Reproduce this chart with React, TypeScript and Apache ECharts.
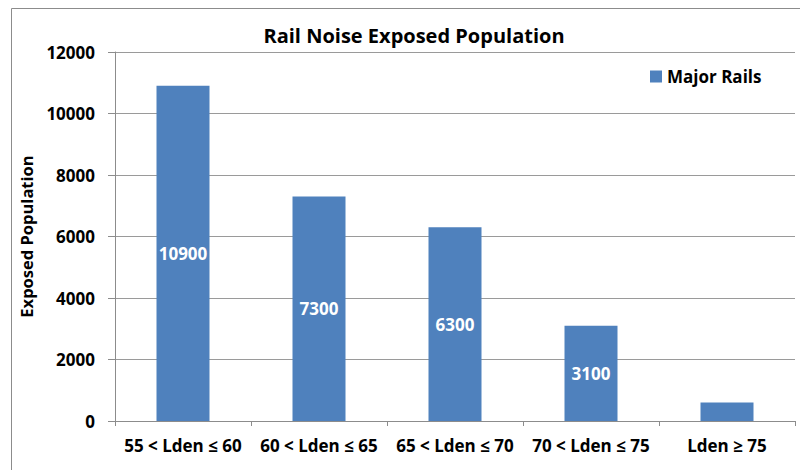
import React, { useEffect, useRef } from "react";
import * as echarts from "echarts";

const categories = ["55 < Lden ≤ 60", "60 < Lden ≤ 65", "65 < Lden ≤ 70", "70 < Lden ≤ 75", "Lden ≥ 75"];
const majorRails = [10900, 7300, 6300, 3100, 600];
const showLabel = [true, true, true, true, false];
const yTicks = { min: 0, max: 12000, interval: 2000 };

const FONT = "Open Sans";
const GREY = "#8c8c8c";

export default function App() {
  const ref = useRef<HTMLDivElement>(null);
  useEffect(() => {
    if (!ref.current) return;
    const chart = echarts.init(ref.current, null, { renderer: "svg" });
    chart.setOption({
      animation: false,
      backgroundColor: "#ffffff",
      title: {
        text: "Rail Noise Exposed Population",
        left: 409,
        top: 20,
        textAlign: "center",
        textStyle: { fontFamily: FONT, fontSize: 20, fontWeight: "bold", color: "#000" },
      },
      legend: {
        left: 650,
        top: 68,
        padding: 0,
        itemWidth: 12,
        itemHeight: 12,
        icon: "rect",
        itemGap: 5,
        textStyle: { fontFamily: FONT, fontSize: 17, fontWeight: "bold", color: "#000" },
        data: ["Major Rails"],
      },
      graphic: [
        {
          type: "rect",
          shape: { x: 11.5, y: 8.5, width: 900, height: 600 },
          style: { fill: "none", stroke: GREY, lineWidth: 1 },
          silent: true,
        },
      ],
      grid: { left: 115, top: 52, right: 5, bottom: 49 },
      xAxis: {
        type: "category",
        data: categories,
        axisLine: { lineStyle: { color: GREY } },
        axisTick: { show: true, length: 5, lineStyle: { color: GREY } },
        axisLabel: {
          margin: 16,
          fontFamily: FONT,
          fontSize: 17,
          fontWeight: "bold",
          color: "#000",
          interval: 0,
        },
      },
      yAxis: {
        type: "value",
        min: yTicks.min,
        max: yTicks.max,
        interval: yTicks.interval,
        name: "Exposed Population",
        nameLocation: "middle",
        nameGap: 67,
        nameTextStyle: { fontFamily: FONT, fontSize: 16.5, fontWeight: "bold", color: "#000" },
        axisLine: { show: true, lineStyle: { color: GREY } },
        axisTick: { show: true, length: 7, inside: false, lineStyle: { color: GREY } },
        splitLine: { show: true, lineStyle: { color: "#9a9a9a", width: 1 } },
        axisLabel: {
          margin: 20,
          fontFamily: FONT,
          fontSize: 17,
          fontWeight: "bold",
          color: "#000",
          formatter: (v: number) => String(v),
        },
      },
      series: [
        {
          name: "Major Rails",
          type: "bar",
          barWidth: 53,
          itemStyle: { color: "#4F81BD" },
          label: {
            show: true,
            position: "inside",
            fontFamily: FONT,
            fontSize: 17,
            fontWeight: "bold",
            color: "#ffffff",
          },
          data: majorRails.map((v, i) => ({ value: v, label: { show: showLabel[i] } })),
        },
      ],
    });
    return () => chart.dispose();
  }, []);
  return <div ref={ref} style={{ width: 800, height: 470, position: "absolute", left: 0, top: 0 }} />;
}
